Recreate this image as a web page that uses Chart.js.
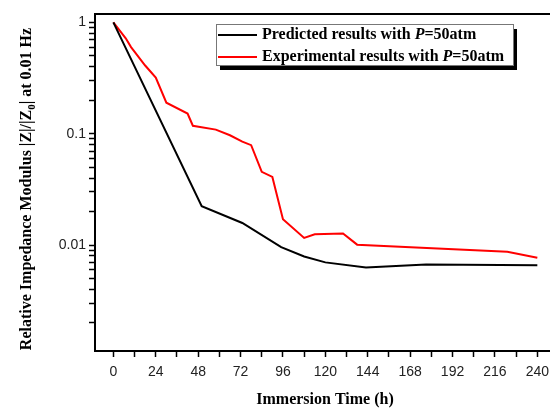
<!DOCTYPE html>
<html>
<head>
<meta charset="utf-8">
<script src="https://cdn.jsdelivr.net/npm/chart.js@4/dist/chart.umd.min.js"></script>
<style>
  html, body { margin: 0; padding: 0; background: #fff; overflow: hidden; }
</style>
</head>
<body>
<canvas id="impedanceChart" width="560" height="408"></canvas>
<script>
// immersion time (h) and |Z|/|Z0| at 0.01 Hz
const predictedTime = [0, 50, 73, 95, 108, 120, 143, 177, 240];
const predictedModulus = [1.0, 0.0224, 0.0158, 0.0096, 0.0079, 0.0070, 0.0063, 0.0067, 0.0066];

const experimentalTime = [0, 7, 10, 18, 24, 30, 42, 45, 58, 66, 73, 78, 84, 90, 96, 108, 114, 130, 138, 223, 240];
const experimentalModulus = [1.0, 0.72, 0.60, 0.41, 0.32, 0.19, 0.152, 0.118, 0.109, 0.097, 0.085, 0.079,
    0.0455, 0.041, 0.0171, 0.0116, 0.0125, 0.0127, 0.0101, 0.0087, 0.0077];

const timeTicks = [0, 24, 48, 72, 96, 120, 144, 168, 192, 216, 240];
const modulusTicks = [0.01, 0.1, 1];

const seriesLabels = ["Predicted results with ", "Experimental results with "];
const seriesColors = ["#000000", "#ff0000"];

const toPoints = (xs, ys) => xs.map((x, i) => ({ x: x, y: ys[i] }));

const serif = "'Liberation Serif', 'Times New Roman', serif";
const sans = "'Liberation Sans', Arial, sans-serif";

// box around the plot area
const frame = {
    id: 'frame',
    afterDraw(chart) {
        const a = chart.chartArea, ctx = chart.ctx;
        ctx.save();
        ctx.strokeStyle = '#000';
        ctx.lineWidth = 2;
        ctx.strokeRect(a.left, a.top, a.right - a.left, a.bottom - a.top);
        ctx.restore();
    }
};

// legend with shadow and italic P
const legendBox = {
    id: 'legendBox',
    afterDraw(chart) {
        const ctx = chart.ctx;
        const x = 216, y = 24, w = 297, h = 41;
        ctx.save();
        ctx.fillStyle = '#000';
        ctx.fillRect(x + 4, y + 5, w, h);
        ctx.fillStyle = '#fff';
        ctx.fillRect(x, y, w, h);
        ctx.strokeStyle = '#777';
        ctx.lineWidth = 1;
        ctx.strokeRect(x + 0.5, y + 0.5, w, h);

        chart.data.datasets.forEach((ds, i) => {
            const ly = 35 + i * 22;
            ctx.strokeStyle = ds.borderColor;
            ctx.lineWidth = 2;
            ctx.beginPath();
            ctx.moveTo(218, ly);
            ctx.lineTo(257, ly);
            ctx.stroke();

            ctx.fillStyle = '#000';
            ctx.textBaseline = 'middle';
            ctx.textAlign = 'left';
            let tx = 262;
            ctx.font = 'bold 16px ' + serif;
            ctx.fillText(seriesLabels[i], tx, ly);
            tx += ctx.measureText(seriesLabels[i]).width;
            ctx.font = 'italic bold 16px ' + serif;
            ctx.fillText('P', tx, ly);
            tx += ctx.measureText('P').width;
            ctx.font = 'bold 16px ' + serif;
            ctx.fillText('=50atm', tx, ly);
        });
        ctx.restore();
    }
};

// axis titles (the y title needs a subscript)
const axisTitles = {
    id: 'axisTitles',
    afterDraw(chart) {
        const ctx = chart.ctx;
        ctx.save();
        ctx.fillStyle = '#000';
        ctx.textBaseline = 'alphabetic';
        ctx.textAlign = 'center';
        ctx.font = 'bold 16px ' + serif;
        ctx.fillText('Immersion Time (h)', 325, 404);

        const parts = [
            { t: 'Relative Impedance Modulus |Z|/|Z', f: 'bold 16px ' + serif, dy: 0 },
            { t: '0', f: 'bold 11px ' + serif, dy: 4 },
            { t: '| at 0.01 Hz', f: 'bold 16px ' + serif, dy: 0 }
        ];
        let total = 0;
        parts.forEach(p => { ctx.font = p.f; p.w = ctx.measureText(p.t).width; total += p.w; });
        ctx.translate(31, 189);
        ctx.rotate(-Math.PI / 2);
        ctx.textAlign = 'left';
        let px = -total / 2;
        parts.forEach(p => {
            ctx.font = p.f;
            ctx.fillText(p.t, px, p.dy);
            px += p.w;
        });
        ctx.restore();
    }
};

new Chart(document.getElementById('impedanceChart'), {
    type: 'line',
    data: {
        datasets: [
            {
                label: seriesLabels[0] + 'P=50atm',
                data: toPoints(predictedTime, predictedModulus),
                borderColor: seriesColors[0],
                borderWidth: 2,
                pointRadius: 0,
                tension: 0,
                fill: false
            },
            {
                label: seriesLabels[1] + 'P=50atm',
                data: toPoints(experimentalTime, experimentalModulus),
                borderColor: seriesColors[1],
                borderWidth: 2,
                pointRadius: 0,
                tension: 0,
                fill: false
            }
        ]
    },
    options: {
        responsive: false,
        animation: false,
        layout: { padding: { top: 14, right: 5, left: 0, bottom: 0 } },
        plugins: {
            legend: { display: false },
            tooltip: { enabled: false }
        },
        scales: {
            x: {
                type: 'linear',
                min: -10.4,
                max: 250,
                afterFit: s => { s.height = 57 },
                afterBuildTicks: s => { s.ticks = s.ticks.filter(t => t.value >= 0 && t.value % 12 === 0) },
                ticks: {
                    stepSize: 12,
                    includeBounds: false,
                    autoSkip: false,
                    maxRotation: 0,
                    padding: 7,
                    color: '#222',
                    font: { family: sans, size: 14 },
                    callback: v => timeTicks.includes(v) ? String(v) : ''
                },
                grid: { drawOnChartArea: false, tickLength: 6, tickColor: '#000', tickWidth: 1.5 },
                border: { color: '#000', width: 2 }
            },
            y: {
                type: 'logarithmic',
                min: 0.00112,
                max: 1.19,
                afterFit: s => { s.width = 95 },
                afterBuildTicks: s => {
                    s.ticks = s.ticks.filter(t => {
                        const m = t.value / Math.pow(10, Math.floor(Math.log10(t.value) + 1e-9));
                        return Math.abs(m - Math.round(m)) < 1e-6;
                    });
                },
                ticks: {
                    autoSkip: false,
                    padding: 3,
                    color: '#222',
                    font: { family: sans, size: 14 },
                    callback: v => modulusTicks.some(m => Math.abs(v / m - 1) < 1e-6) ? String(v) : ''
                },
                grid: { drawOnChartArea: false, tickLength: 6, tickColor: '#000', tickWidth: 1.5 },
                border: { color: '#000', width: 2 }
            }
        }
    },
    plugins: [frame, legendBox, axisTitles]
});
</script>
</body>
</html>
